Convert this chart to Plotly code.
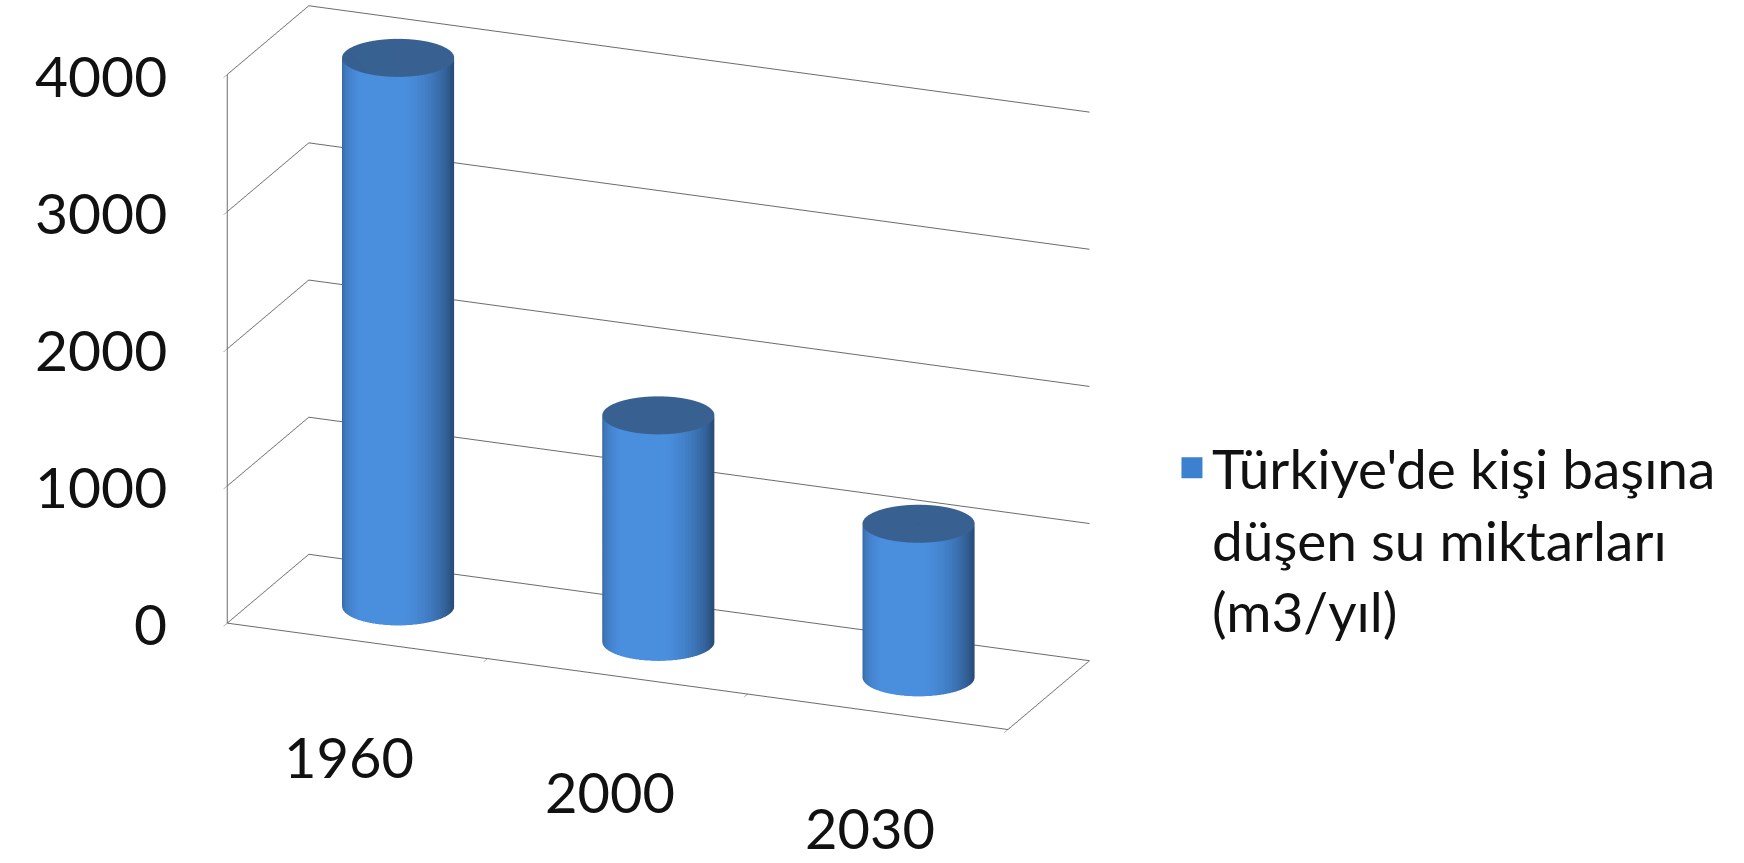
import numpy as np
import plotly.graph_objects as go

# ---- data ----
years = ["1960", "2000", "2030"]
values = [4000, 1652, 1120]
series_name = "Türkiye'de kişi başına<br>düşen su miktarları<br>(m3/yıl)"
z_ticks = [0, 1000, 2000, 3000, 4000]
z_tick_text = ["0", "1000", "2000", "3000", "4000"]

FONT = "Lato"
BAR_COLOR = "#4A8EDE"
LEGEND_COLOR = "#3E80D0"
GRID = "#6b6b6b"
TEXT = "#111111"

X_MIN, X_MAX = -0.5, len(years) - 0.5
Y_MIN, Y_MAX = -0.43, 0.43
x_boundaries = [i - 0.5 for i in range(len(years) + 1)]

K = 1.95
ASPECT = dict(x=1 * K, y=0.26 * K, z=0.693 * K)

# cylinder radius in x units; y radius corrected so the section stays circular on screen
R = 0.2
RY = R * ((Y_MAX - Y_MIN) / (X_MAX - X_MIN)) / (ASPECT["y"] / ASPECT["x"])
theta = np.linspace(0, 2 * np.pi, 91)
light = dict(ambient=0.55, diffuse=0.5, specular=0.05, roughness=0.6, fresnel=0.0)
lightpos = dict(x=10000, y=0, z=-100000)
cs = [[0, BAR_COLOR], [1, BAR_COLOR]]
no_contours = dict(x=dict(highlight=False), y=dict(highlight=False), z=dict(highlight=False))

fig = go.Figure()
for i, v in enumerate(values):
    xs = i + R * np.cos(theta)
    ys = RY * np.sin(theta)
    fig.add_trace(go.Surface(
        x=np.vstack([xs, xs]), y=np.vstack([ys, ys]),
        z=np.vstack([np.zeros_like(theta), np.full_like(theta, v)]),
        colorscale=cs, showscale=False, lighting=light, lightposition=lightpos,
        hoverinfo="skip", contours=no_contours, showlegend=False))
    rr = np.array([0.0, 1.0])
    X = i + R * np.outer(rr, np.cos(theta))
    Y = RY * np.outer(rr, np.sin(theta))
    Z = np.full_like(X, v)
    fig.add_trace(go.Surface(
        x=X, y=Y, z=Z, colorscale=cs, showscale=False, lighting=light,
        lightposition=lightpos, hoverinfo="skip", contours=no_contours, showlegend=False))

# legend entry
fig.add_trace(go.Scatter(
    x=[None], y=[None], mode="markers", name=series_name, showlegend=True,
    marker=dict(symbol="square", size=16, color=LEGEND_COLOR,
                line=dict(color=LEGEND_COLOR, width=5))))

# tick labels as scene annotations (HTML text anchored at data coordinates)
annos = []
for t, txt in zip(z_ticks, z_tick_text):
    annos.append(dict(x=X_MIN, y=Y_MIN, z=t, text=txt, showarrow=False,
                      xanchor="right", yanchor="middle", xshift=-58,
                      font=dict(family=FONT, size=57, color=TEXT)))
for i, yr in enumerate(years):
    annos.append(dict(x=i, y=Y_MIN, z=0, text=yr, showarrow=False,
                      xanchor="center", yanchor="top", yshift=-80, xshift=-8,
                      font=dict(family=FONT, size=56, color=TEXT)))

axis_common = dict(showbackground=False, showspikes=False, zeroline=False,
                   title=dict(text=""), linecolor=GRID, linewidth=2)

s = 3.0
eye_dir = (0.351, -0.873, 0.339)
c = dict(x=-0.1595, y=-0.1181, z=-0.1393)
fig.update_layout(
    width=1744, height=863,
    margin=dict(l=0, r=0, t=0, b=0),
    paper_bgcolor="white", plot_bgcolor="white",
    font=dict(family=FONT, color=TEXT),
    showlegend=True,
    xaxis=dict(visible=False), yaxis=dict(visible=False),
    scene=dict(
        domain=dict(x=[0, 0.66], y=[0, 1]),
        xaxis=dict(range=[X_MIN, X_MAX], tickvals=x_boundaries,
                   showticklabels=False, showgrid=False, showline=True,
                   ticks="outside", ticklen=22, tickcolor=GRID, **axis_common),
        yaxis=dict(range=[Y_MIN, Y_MAX], showticklabels=False, showgrid=False,
                   showline=True, ticks="", **axis_common),
        zaxis=dict(range=[0, 4000], tickvals=z_ticks, showticklabels=False,
                   showgrid=True, gridcolor=GRID, gridwidth=2, showline=True,
                   ticks="outside", ticklen=12, tickcolor=GRID, **axis_common),
        aspectmode="manual", aspectratio=ASPECT,
        camera=dict(eye=dict(x=eye_dir[0] * s + c["x"], y=eye_dir[1] * s + c["y"],
                             z=eye_dir[2] * s + c["z"]),
                    center=c,
                    up=dict(x=0, y=0, z=1), projection=dict(type="orthographic")),
        annotations=annos,
    ),
    legend=dict(x=0.672, y=0.375, xanchor="left", yanchor="middle", valign="top",
                font=dict(size=55, family=FONT, color=TEXT), bgcolor="rgba(0,0,0,0)"),
)

fig.write_html("out.html", config={"displayModeBar": False})
